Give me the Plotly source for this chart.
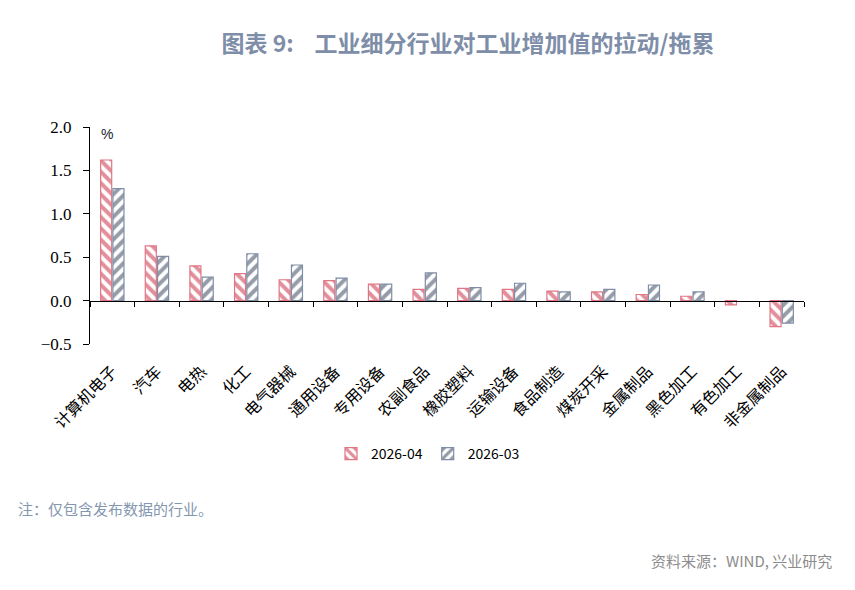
import plotly.graph_objects as go

categories = ["计算机电子", "汽车", "电热", "化工", "电气器械", "通用设备", "专用设备", "农副食品",
              "橡胶塑料", "运输设备", "食品制造", "煤炭开采", "金属制品", "黑色加工", "有色加工", "非金属制品"]
s_apr = [1.62, 0.63, 0.40, 0.31, 0.24, 0.23, 0.19, 0.13, 0.14, 0.13, 0.11, 0.10, 0.07, 0.05, -0.05, -0.30]
s_mar = [1.29, 0.51, 0.27, 0.54, 0.41, 0.26, 0.19, 0.32, 0.15, 0.20, 0.10, 0.13, 0.18, 0.10, None, -0.26]
name_apr = "2026-04"
name_mar = "2026-03"
y_ticks = [-0.5, 0.0, 0.5, 1.0, 1.5, 2.0]

RED = "#c41f35"
RED_LINE = "#e27585"
BLUE = "#2c3a52"
BLUE_LINE = "#7f8da6"

fig = go.Figure()
fig.add_trace(go.Bar(
    x=categories, y=s_apr, name=name_apr,
    marker=dict(color="white", line=dict(color=RED_LINE, width=1.2),
                pattern=dict(shape="\\", fgcolor=RED, bgcolor="white", size=8, solidity=0.5)),
))
fig.add_trace(go.Bar(
    x=categories, y=s_mar, name=name_mar,
    marker=dict(color="white", line=dict(color=BLUE_LINE, width=1.2),
                pattern=dict(shape="/", fgcolor=BLUE, bgcolor="white", size=8, solidity=0.5)),
))
# invisible trace for the zero-line category axis (ticks between categories)
fig.add_trace(go.Scatter(x=categories, y=[0] * len(categories), xaxis="x2", mode="markers",
                         marker=dict(opacity=0), showlegend=False, hoverinfo="skip"))

ymin, ymax = -0.5, 2.0
zero_pos = (0 - ymin) / (ymax - ymin)
PH = 217.0
PW = 714.0

fig.update_layout(
    width=855, height=590,
    margin=dict(l=82, r=59, t=119, b=254, autoexpand=False),
    plot_bgcolor="white", paper_bgcolor="white",
    barmode="group", bargap=0.45, bargroupgap=0.1,
    showlegend=True,
    legend=dict(orientation="h", x=(428 - 90) / PW, xanchor="center", y=1 - (454 - 127) / PH, yanchor="middle",
                font=dict(family="Noto Sans CJK SC", size=14, color="black"),
                itemwidth=30, traceorder="normal"),
    xaxis=dict(type="category", categoryorder="array", categoryarray=categories,
               showline=False, ticks="", tickangle=-45, automargin=False,
               ticklabelstandoff=14,
               tickfont=dict(family="Noto Sans CJK SC", size=16, color="black"),
               showgrid=False, range=[-0.5, len(categories) - 0.5]),
    xaxis2=dict(type="category", categoryorder="array", categoryarray=categories,
                overlaying="x", anchor="free", position=zero_pos, automargin=False,
                showline=True, linecolor="black", linewidth=1.2,
                ticks="outside", ticklen=5, tickcolor="black", tickson="boundaries",
                showticklabels=False, showgrid=False, range=[-0.5, len(categories) - 0.5]),
    yaxis=dict(range=[ymin, ymax], tickvals=y_ticks, tickformat=".1f", automargin=False,
               showline=True, linecolor="black", linewidth=1.2,
               ticks="outside", ticklen=6, tickcolor="black", ticklabelstandoff=8,
               showgrid=False, zeroline=False,
               tickfont=dict(family="Liberation Serif, Times New Roman, serif", size=17, color="black")),
    title=dict(text="<b>图表 9:    工业细分行业对工业增加值的拉动/拖累</b>",
               x=(468 - 8) / 855, xanchor="center", xref="container",
               y=1 - (44 - 8) / 590, yanchor="middle", yref="container",
               font=dict(family="Noto Sans CJK SC", size=23, color="#7e8ea8")),
)

fig.add_annotation(text="%", xref="paper", yref="paper", x=(107 - 90) / PW, y=1 - (134 - 127) / PH,
                   showarrow=False, font=dict(family="Liberation Sans", size=14, color="#1a1a2e"),
                   xanchor="center", yanchor="middle")
fig.add_annotation(text="注：仅包含发布数据的行业。", xref="paper", yref="paper",
                   x=-(90 - 16) / PW, y=1 - (508 - 127) / PH, xanchor="left", yanchor="middle",
                   showarrow=False, font=dict(family="Noto Sans CJK SC", size=15, color="#8497b0"))
fig.add_annotation(text="资料来源：WIND, 兴业研究", xref="paper", yref="paper",
                   x=(834 - 90) / PW, y=1 - (560 - 127) / PH, xanchor="right", yanchor="middle",
                   showarrow=False, font=dict(family="Noto Sans CJK SC", size=15, color="#8c8c8c"))

fig.write_html("out.html")
